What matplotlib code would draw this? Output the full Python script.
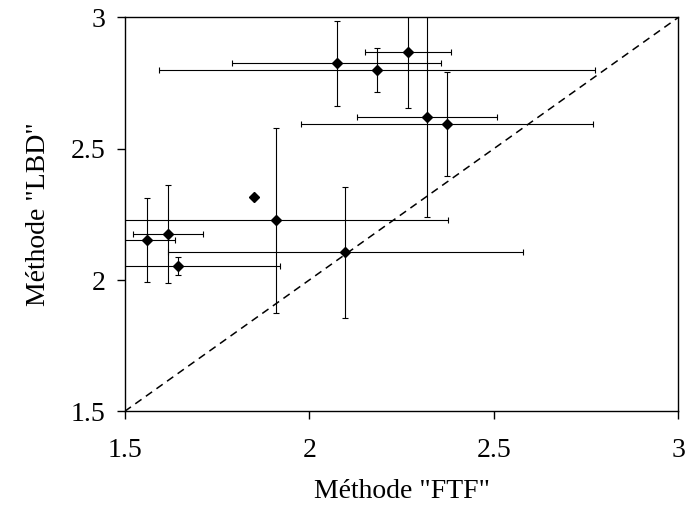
import matplotlib.pyplot as plt

# values
ftf = [1.560, 1.617, 1.644, 1.849, 1.910, 2.097, 2.075, 2.183, 2.267, 2.320, 2.373]
lbd = [2.151, 2.175, 2.054, 2.315, 2.227, 2.105, 2.825, 2.801, 2.868, 2.622, 2.595]
ftf_err = [0.077, 0.095, 0.276, 0.0, 0.467, 0.481, 0.283, 0.591, 0.117, 0.190, 0.396]
lbd_err = [0.160, 0.186, 0.034, 0.0, 0.351, 0.248, 0.162, 0.084, 0.213, 0.382, 0.197]
ticks = [1.5, 2, 2.5, 3]
tick_labels = ["1.5", "2", "2.5", "3"]

plt.rcParams['font.family'] = ['Liberation Serif', 'DejaVu Serif']

fig = plt.figure(figsize=(6.86, 5.17), dpi=100)
ax = fig.add_axes([0.1818, 0.2044, 0.807, 0.7619])

# y = x reference line
ax.plot([1.5, 3], [1.5, 3], color="black", lw=1.1, linestyle=(0, (5, 3.5)), zorder=1)

ax.errorbar(ftf, lbd, xerr=ftf_err, yerr=lbd_err, fmt="D", color="black",
            ms=5.5, ecolor="black", elinewidth=0.8, capsize=2.5, capthick=0.8, zorder=3)

ax.set_xlim(1.5, 3)
ax.set_ylim(1.5, 3)
ax.set_xticks(ticks)
ax.set_xticklabels(tick_labels)
ax.set_yticks(ticks)
ax.set_yticklabels(tick_labels)
ax.tick_params(axis="both", direction="out", length=6, width=1, labelsize=20)
ax.tick_params(axis="x", pad=13)
ax.tick_params(axis="y", pad=8)
for s in ax.spines.values():
    s.set_linewidth(1)

ax.set_xlabel('Méthode "FTF"', fontsize=20, labelpad=12)
ax.set_ylabel('Méthode "LBD"', fontsize=20, labelpad=14)

fig.savefig("out.png", dpi=100)
